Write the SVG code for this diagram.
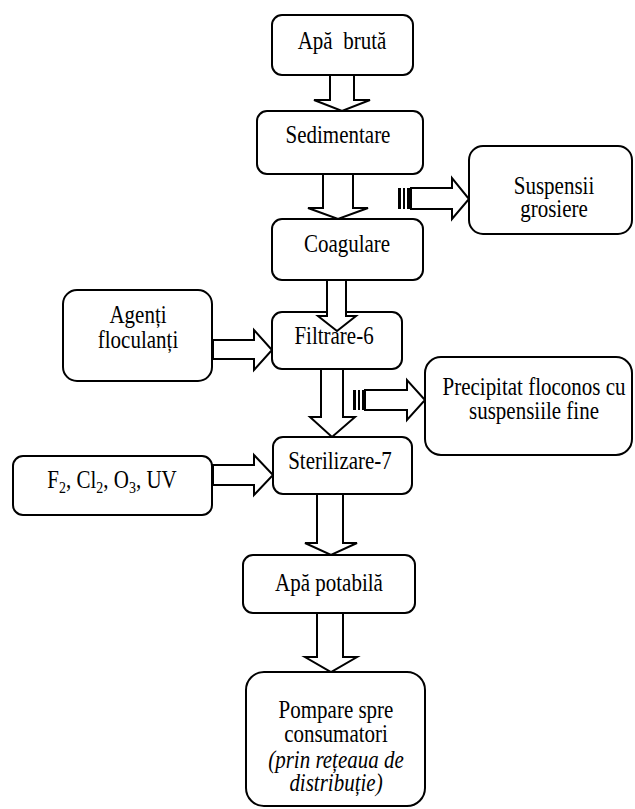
<svg xmlns="http://www.w3.org/2000/svg" width="635" height="809" viewBox="0 0 635 809" font-family="Liberation Serif, Times New Roman, serif">
<style>
.box{fill:#fff;stroke:#000;stroke-width:2}
.arr{fill:#fff;stroke:#000;stroke-width:2;stroke-linejoin:miter}
text{font-family:'Liberation Serif','Times New Roman',serif;font-size:21px;fill:#000;text-anchor:middle}
.i{font-style:italic}
.sub{font-size:14px}
.st{fill:#000}
</style>
<rect width="635" height="809" fill="#fff"/>
<g id="connectors">
  <polygon class="arr" points="330,75 330,100 314,100 342,111 370,100 354,100 354,75"/>
  <polygon class="arr" points="323,174 323,208 308,208 338,219 368,208 353,208 353,174"/>
  <polygon class="arr" points="321,369 321,417 310,417 332,437 355,417 343,417 343,369"/>
  <polygon class="arr" points="317,494 317,543 305,543 331,555 357,543 343,543 343,494"/>
  <polygon class="arr" points="317,613 317,657 305,657 331,672 357,657 343,657 343,613"/>
  <g id="side1">
    <polygon class="arr" points="411,188 452,188 452,178 469,199 452,219 452,209 411,209"/>
    <rect class="st" x="398" y="188" width="3" height="21"/><rect class="st" x="403" y="188" width="2" height="21"/><rect class="st" x="407" y="188" width="4" height="21"/>
  </g>
  <g id="side2">
    <polygon class="arr" points="213,340 254,340 254,330 272,350 254,370 254,359 213,359"/>
    <rect class="st" x="202" y="340" width="3" height="19"/><rect class="st" x="207" y="340" width="2" height="19"/><rect class="st" x="211" y="340" width="3" height="19"/>
  </g>
  <g id="side3">
    <polygon class="arr" points="365,390 407,390 407,380 425,400 407,420 407,410 365,410"/>
    <rect class="st" x="353" y="390" width="3" height="20"/><rect class="st" x="358" y="390" width="2" height="20"/><rect class="st" x="362" y="390" width="3" height="20"/>
  </g>
  <g id="side4">
    <polygon class="arr" points="213,465 254,465 254,455 273,475 254,495 254,485 213,485"/>
    <rect class="st" x="202" y="465" width="3" height="20"/><rect class="st" x="207" y="465" width="2" height="20"/><rect class="st" x="211" y="465" width="3" height="20"/>
  </g>
</g>
<g id="apa-bruta"><rect class="box" x="272" y="15" width="141" height="60" rx="10"/><text transform="matrix(1 0 0 1.15 342 49)" xml:space="preserve">Apă  brută</text></g>
<g id="sedimentare"><rect class="box" x="257" y="111" width="166" height="63" rx="10"/><text transform="matrix(1 0 0 1.15 338 143)">Sedimentare</text></g>
<g id="coagulare"><rect class="box" x="272" y="219" width="151" height="61" rx="10"/><text transform="matrix(1 0 0 1.15 347 252)">Coagulare</text></g>
<g id="suspensii"><rect class="box" x="469" y="146" width="163" height="88" rx="14"/><text transform="matrix(1 0 0 1.15 554 194)">Suspensii</text><text transform="matrix(1 0 0 1.15 554 217)">grosiere</text></g>
<g id="agenti"><rect class="box" x="63" y="290" width="149" height="91" rx="14"/><text transform="matrix(1 0 0 1.15 138 323)">Agenți</text><text transform="matrix(1 0 0 1.15 138 348)">floculanți</text></g>
<g id="filtrare"><rect class="box" x="272" y="312" width="130" height="57" rx="10"/><text transform="matrix(1 0 0 1.15 334 344)">Filtrare-6</text></g>
<polygon class="arr" points="327,280 327,316 318,316 337,331 356,316 346,316 346,280"/>
<g id="precipitat"><rect class="box" x="425" y="357" width="207" height="98" rx="16"/><text transform="matrix(1 0 0 1.15 534 395)">Precipitat floconos cu</text><text transform="matrix(1 0 0 1.15 534 419)">suspensiile fine</text></g>
<g id="sterilizare"><rect class="box" x="273" y="437" width="139" height="57" rx="10"/><text transform="matrix(1 0 0 1.15 340 469)">Sterilizare-7</text></g>
<g id="reagenti"><rect class="box" x="13" y="456" width="199" height="59" rx="10"/><text transform="matrix(1 0 0 1.15 112 488)">F<tspan class="sub" dy="4">2</tspan><tspan dy="-4">, Cl</tspan><tspan class="sub" dy="4">2</tspan><tspan dy="-4">, O</tspan><tspan class="sub" dy="4">3</tspan><tspan dy="-4">, UV</tspan></text></g>
<g id="apa-potabila"><rect class="box" x="243" y="555" width="172" height="58" rx="10"/><text transform="matrix(1 0 0 1.15 329 591)">Apă potabilă</text></g>
<g id="pompare"><rect class="box" x="246" y="672" width="179" height="134" rx="18"/><text transform="matrix(1 0 0 1.15 336 718)">Pompare spre</text><text transform="matrix(1 0 0 1.15 336 742)">consumatori</text><text class="i" transform="matrix(1 0 0 1.15 336 768)">(prin rețeaua de</text><text class="i" transform="matrix(1 0 0 1.15 336 791)">distribuție)</text></g>
</svg>
